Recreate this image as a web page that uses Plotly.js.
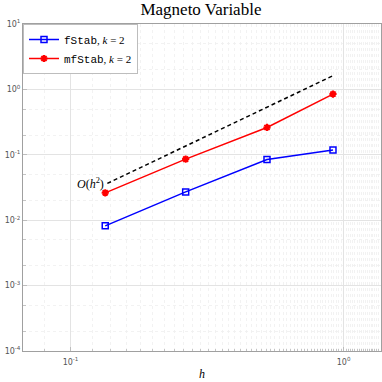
<!DOCTYPE html>
<html>
<head>
<meta charset="utf-8">
<script src="https://cdn.plot.ly/plotly-3.0.1.min.js"></script>
<style>
  html, body { margin: 0; padding: 0; background: #fff; }
  #chart { width: 382px; height: 382px; }
</style>
</head>
<body>
<div id="chart"></div>
<script>
// Mesh sizes and errors
const hValues = [0.134, 0.264, 0.524, 0.914];
const fStabErr = [0.0082, 0.0271, 0.0849, 0.118];
const mfStabErr = [0.0262, 0.0859, 0.262, 0.849];

// Reference slope O(h^2)
const refH = [0.1364, 0.914];
const refErr = [0.0365, 1.62];

// Tick labels
const xTickVals = [0.1, 1];
const xTickText = ['10<sup>-1</sup>', '10<sup>0</sup>'];
const yTickVals = [1e-4, 1e-3, 1e-2, 1e-1, 1, 10];
const yTickText = ['10<sup>-4</sup>', '10<sup>-3</sup>', '10<sup>-2</sup>', '10<sup>-1</sup>', '10<sup>0</sup>', '10<sup>1</sup>'];

const serif = 'Liberation Serif, DejaVu Serif, serif';
const mono = 'Liberation Mono, DejaVu Sans Mono, monospace';

const traces = [
  {
    x: hValues, y: fStabErr,
    type: 'scatter', mode: 'lines+markers',
    name: '<span style="font-family:' + mono + '">fStab</span>, <i>k</i> = 2',
    line: { color: '#0000ff', width: 1.5 },
    marker: { symbol: 'square-open', size: 6, color: '#0000ff', line: { width: 1.5, color: '#0000ff' } }
  },
  {
    x: hValues, y: mfStabErr,
    type: 'scatter', mode: 'lines+markers',
    name: '<span style="font-family:' + mono + '">mfStab</span>, <i>k</i> = 2',
    line: { color: '#ff0000', width: 1.5 },
    marker: { symbol: 'asterisk-open', size: 6, color: '#ff0000', line: { width: 2, color: '#ff0000' } }
  },
  {
    x: refH, y: refErr,
    type: 'scatter', mode: 'lines',
    showlegend: false,
    line: { color: '#000000', width: 1.5, dash: '4px,3px' }
  }
];

const gridColor = '#e3e3e3';
const minorGrid = { showgrid: true, gridcolor: '#efefef', griddash: 'dot', gridwidth: 0.8, ticks: 'inside', ticklen: 2.5, tickcolor: '#c4c4c4' };

const tickFont = { family: 'DejaVu Sans, sans-serif', size: 8, color: '#555' };

const layout = {
  width: 382, height: 382,
  margin: { l: 23, r: 1, t: 24, b: 31 },
  paper_bgcolor: '#ffffff',
  plot_bgcolor: '#ffffff',
  title: {
    text: 'Magneto Variable',
    font: { family: serif, size: 17, color: '#000' },
    x: 0.526, xanchor: 'center', y: 0.992, yanchor: 'top'
  },
  xaxis: {
    type: 'log',
    range: [Math.log10(0.067), Math.log10(1.37)],
    tickvals: xTickVals, ticktext: xTickText,
    showgrid: true, gridcolor: gridColor,
    ticks: 'inside', ticklen: 4, tickcolor: '#bdbdbd',
    minor: minorGrid,
    showline: true, linecolor: '#a0a0a0', mirror: true,
    zeroline: false,
    ticklabelstandoff: 3,
    tickfont: tickFont,
    title: { text: '<i>h</i>', font: { family: serif, size: 12, color: '#000' }, standoff: 4 }
  },
  yaxis: {
    type: 'log',
    range: [-4, 1],
    tickvals: yTickVals, ticktext: yTickText,
    showgrid: true, gridcolor: gridColor,
    ticks: 'inside', ticklen: 4, tickcolor: '#bdbdbd',
    minor: minorGrid,
    showline: true, linecolor: '#a0a0a0', mirror: true,
    zeroline: false,
    ticklabelstandoff: 0,
    tickfont: tickFont
  },
  legend: {
    x: 0.0, y: 1.0, xanchor: 'left', yanchor: 'top',
    bgcolor: '#ffffff', bordercolor: '#bdbdbd', borderwidth: 1,
    font: { family: serif, size: 11, color: '#000' },
    tracegroupgap: 0, itemwidth: 30
  },
  annotations: [
    {
      x: Math.log10(refH[0]), y: Math.log10(refErr[0]),
      xref: 'x', yref: 'y',
      text: '<i>O</i>(<i>h</i><sup>2</sup>)',
      showarrow: false, xanchor: 'right', yanchor: 'middle', xshift: -1,
      font: { family: serif, size: 12, color: '#000' }
    }
  ],
  showlegend: true
};

Plotly.newPlot('chart', traces, layout, { displayModeBar: false, staticPlot: true });
</script>
</body>
</html>
